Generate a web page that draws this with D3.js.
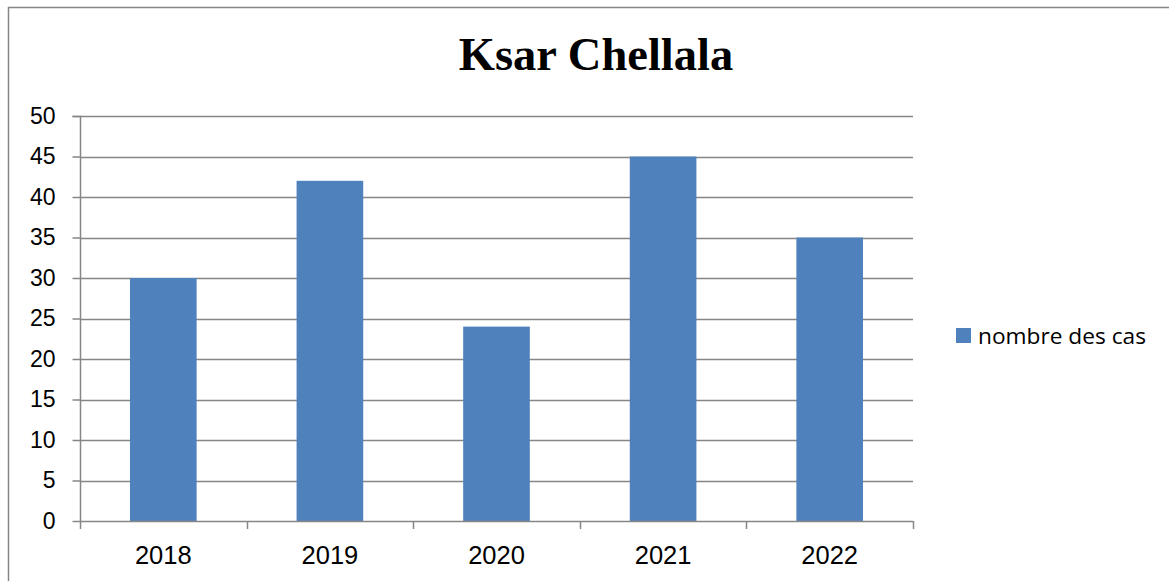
<!DOCTYPE html>
<html>
<head>
<meta charset="utf-8">
<script src="https://cdn.jsdelivr.net/npm/d3@7"></script>
<style>
  html, body { margin: 0; padding: 0; background: #fff; }
  svg { display: block; }
</style>
</head>
<body>
<svg id="chart" width="1169" height="581"></svg>
<script>
// Number of cases per year
const years = ["2018", "2019", "2020", "2021", "2022"];
const cases = [30, 42, 24, 45, 35];
const yTicks = [0, 5, 10, 15, 20, 25, 30, 35, 40, 45, 50];
const seriesName = "nombre des cas";
const chartTitle = "Ksar Chellala";

const svg = d3.select("#chart");
const plot = { left: 80, right: 913, top: 116, bottom: 521 };

// Outer chart frame (runs off the right and bottom edges)
svg.append("rect")
  .attr("x", 8.5).attr("y", 7.5)
  .attr("width", 1200).attr("height", 600)
  .attr("fill", "#fff")
  .attr("stroke", "#868686")
  .attr("stroke-width", 1.5);

const x = d3.scaleBand()
  .domain(years)
  .range([plot.left, plot.right])
  .paddingInner(0.6)
  .paddingOuter(0.3);

const y = d3.scaleLinear()
  .domain([0, 50])
  .range([plot.bottom, plot.top]);

// Horizontal gridlines
svg.append("g")
  .selectAll("line")
  .data(yTicks.filter(d => d > 0))
  .join("line")
  .attr("x1", plot.left).attr("x2", plot.right)
  .attr("y1", d => Math.round(y(d)) + 0.5)
  .attr("y2", d => Math.round(y(d)) + 0.5)
  .attr("stroke", "#868686")
  .attr("stroke-width", 1.5);

// Bars
svg.append("g")
  .selectAll("rect")
  .data(years.map((yr, i) => ({ yr, v: cases[i] })))
  .join("rect")
  .attr("x", d => x(d.yr))
  .attr("width", x.bandwidth())
  .attr("y", d => y(d.v))
  .attr("height", d => y(0) - y(d.v))
  .attr("fill", "#4F81BD");

// Y axis
const yAxis = d3.axisLeft(y)
  .tickValues(yTicks)
  .tickSize(8)
  .tickPadding(17);
const gy = svg.append("g")
  .attr("transform", `translate(${plot.left + 0.5},0)`)
  .call(yAxis);
gy.selectAll("path, line").attr("stroke", "#868686").attr("stroke-width", 1.5);
gy.selectAll("text")
  .attr("font-family", "'Liberation Sans', Arial, sans-serif")
  .attr("font-size", 23)
  .attr("fill", "#000");
gy.select(".domain").attr("d", `M-8,${plot.top + 0.5}H0V${plot.bottom + 0.5}`);

// X axis with ticks between categories
const xEdges = d3.range(years.length + 1).map(i => plot.left + i * (plot.right - plot.left) / years.length);
const gx = svg.append("g");
gx.append("line")
  .attr("x1", plot.left).attr("x2", plot.right)
  .attr("y1", plot.bottom + 0.5).attr("y2", plot.bottom + 0.5)
  .attr("stroke", "#868686").attr("stroke-width", 1.5);
gx.selectAll(".tick")
  .data(xEdges)
  .join("line")
  .attr("class", "tick")
  .attr("x1", d => Math.round(d) + 0.5).attr("x2", d => Math.round(d) + 0.5)
  .attr("y1", plot.bottom).attr("y2", plot.bottom + 8)
  .attr("stroke", "#868686").attr("stroke-width", 1.5);
gx.selectAll("text")
  .data(years)
  .join("text")
  .attr("x", d => x(d) + x.bandwidth() / 2)
  .attr("y", 563.5)
  .attr("text-anchor", "middle")
  .attr("font-family", "'Liberation Sans', Arial, sans-serif")
  .attr("font-size", 25.5)
  .attr("fill", "#000")
  .text(d => d);

// Title
svg.append("text")
  .attr("x", 596)
  .attr("y", 70)
  .attr("text-anchor", "middle")
  .attr("font-family", "'Liberation Serif', 'Times New Roman', serif")
  .attr("font-weight", "bold")
  .attr("font-size", 46.5)
  .attr("fill", "#000")
  .text(chartTitle);

// Legend
const lg = svg.append("g");
lg.append("rect")
  .attr("x", 956).attr("y", 328)
  .attr("width", 15).attr("height", 15)
  .attr("fill", "#4F81BD");
lg.append("text")
  .attr("x", 978).attr("y", 344)
  .attr("font-family", "'Open Sans', 'Liberation Sans', sans-serif")
  .attr("font-size", 22.7)
  .attr("fill", "#000")
  .text(seriesName);
</script>
</body>
</html>
